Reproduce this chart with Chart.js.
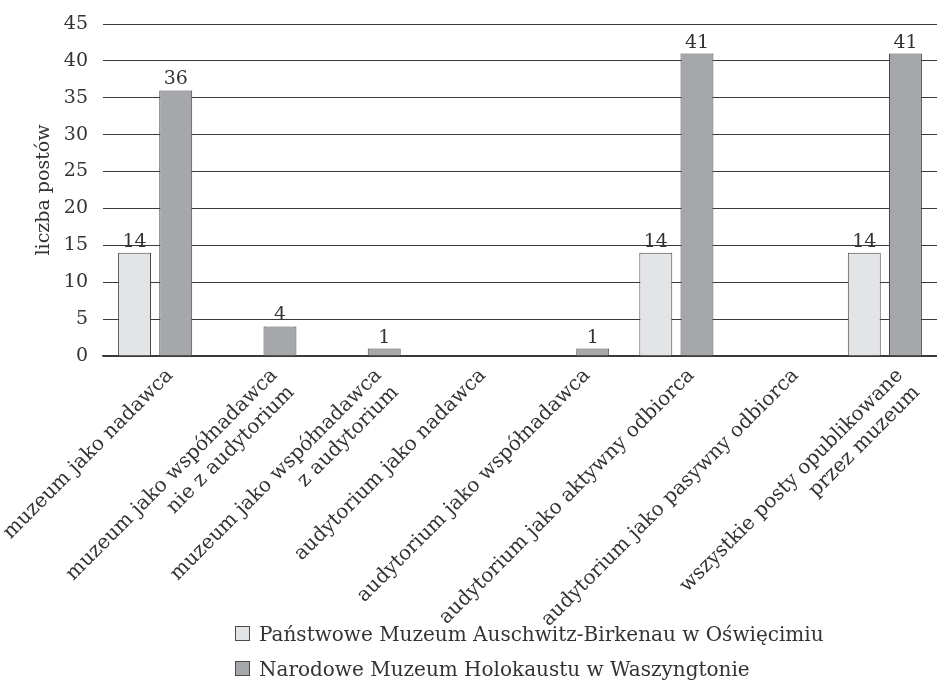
<!DOCTYPE html>
<html lang="pl">
<head>
<meta charset="utf-8">
<title>liczba postów</title>
<script src="https://cdn.jsdelivr.net/npm/chart.js@4.4.1/dist/chart.umd.min.js"></script>
<style>
    html, body { margin: 0; padding: 0; background: #fff; }
    #wrap { position: relative; width: 937px; height: 681px; }
    #chartBox { position: absolute; left: 0; top: 0; width: 937px; height: 681px; }
    #legend { position: absolute; left: 235px; top: 616px; font-family: "DejaVu Serif", serif; font-size: 20px; color: #333; }
    .legend-row { display: flex; align-items: center; height: 35px; }
    .legend-box { width: 13px; height: 13px; border: 1px solid #4a4a4a; margin-right: 9px; }
</style>
</head>
<body>
<div id="wrap">
    <div id="chartBox"><canvas id="chart"></canvas></div>
    <div id="legend"></div>
</div>
<script>
'use strict';

// 데이터
const categories = [
    'muzeum jako nadawca',
    ['muzeum jako współnadawca', 'nie z audytorium'],
    ['muzeum jako współnadawca', 'z audytorium'],
    'audytorium jako nadawca',
    'audytorium jako współnadawca',
    'audytorium jako aktywny odbiorca',
    'audytorium jako pasywny odbiorca',
    ['wszystkie posty opublikowane', 'przez muzeum']
];
const seriesNames = [
    'Państwowe Muzeum Auschwitz-Birkenau w Oświęcimiu',
    'Narodowe Muzeum Holokaustu w Waszyngtonie'
];
const auschwitzValues = [14, 0, 0, 0, 0, 14, 0, 14];
const holocaustValues = [36, 4, 1, 0, 1, 41, 0, 41];
const yTicks = [0, 5, 10, 15, 20, 25, 30, 35, 40, 45];

// 스타일
const FONT = '"DejaVu Serif", serif';
const TEXT_COLOR = '#333';
const colors = {
    light: '#e3e4e6',
    dark: '#a6a7aa',
    border: '#4a4a4a',
    grid: '#3a3a3a'
};

// 막대 위 숫자
const valueLabels = {
    id: 'valueLabels',
    afterDatasetsDraw(chart) {
        const ctx = chart.ctx;
        ctx.save();
        ctx.font = '19px ' + FONT;
        ctx.fillStyle = TEXT_COLOR;
        ctx.textAlign = 'center';
        ctx.textBaseline = 'alphabetic';
        chart.data.datasets.forEach((ds, i) => {
            chart.getDatasetMeta(i).data.forEach((bar, j) => {
                const v = ds.data[j];
                if (!v) return;
                ctx.fillText(String(v), bar.x, bar.y - 6);
            });
        });
        ctx.restore();
    }
};

const chart = new Chart(document.getElementById('chart'), {
    type: 'bar',
    data: {
        labels: categories,
        datasets: [{
            label: seriesNames[0],
            data: auschwitzValues,
            backgroundColor: colors.light,
            borderColor: colors.border,
            borderWidth: 1,
            categoryPercentage: 0.79,
            barPercentage: 0.8
        }, {
            label: seriesNames[1],
            data: holocaustValues,
            backgroundColor: colors.dark,
            borderColor: colors.border,
            borderWidth: 1,
            categoryPercentage: 0.79,
            barPercentage: 0.8
        }]
    },
    options: {
        responsive: true,
        maintainAspectRatio: false,
        animation: false,
        layout: { padding: { top: 24, right: 0, left: 0, bottom: 0 } },
        plugins: {
            legend: { display: false },
            tooltip: { enabled: false }
        },
        scales: {
            x: {
                grid: { display: false },
                border: { display: true, color: colors.grid, width: 1.5 },
                ticks: {
                    color: TEXT_COLOR,
                    font: { family: FONT, size: 20 },
                    minRotation: 45,
                    maxRotation: 45,
                    autoSkip: false,
                    padding: 0,
                    labelOffset: 15
                },
                afterFit: scale => {
                    scale.height = 325;
                    scale.paddingLeft = 0;
                    scale.paddingRight = 0;
                }
            },
            y: {
                min: 0,
                max: 45,
                afterBuildTicks: scale => {
                    scale.ticks = yTicks.map(v => ({ value: v }));
                },
                grid: { color: colors.grid, lineWidth: 1, drawTicks: false },
                border: { display: false },
                ticks: {
                    color: TEXT_COLOR,
                    font: { family: FONT, size: 19 },
                    padding: 15
                },
                title: {
                    display: true,
                    text: 'liczba postów',
                    color: TEXT_COLOR,
                    font: { family: FONT, size: 19 },
                    padding: { top: 33, bottom: 0 }
                },
                afterFit: scale => {
                    scale.width = 103;
                    scale.paddingTop = 0;
                    scale.paddingBottom = 0;
                }
            }
        }
    },
    plugins: [valueLabels]
});

// 범례
const legend = document.getElementById('legend');
chart.data.datasets.forEach(ds => {
    const row = document.createElement('div');
    row.className = 'legend-row';
    const box = document.createElement('div');
    box.className = 'legend-box';
    box.style.background = ds.backgroundColor;
    const text = document.createElement('span');
    text.textContent = ds.label;
    row.appendChild(box);
    row.appendChild(text);
    legend.appendChild(row);
});
</script>
</body>
</html>
